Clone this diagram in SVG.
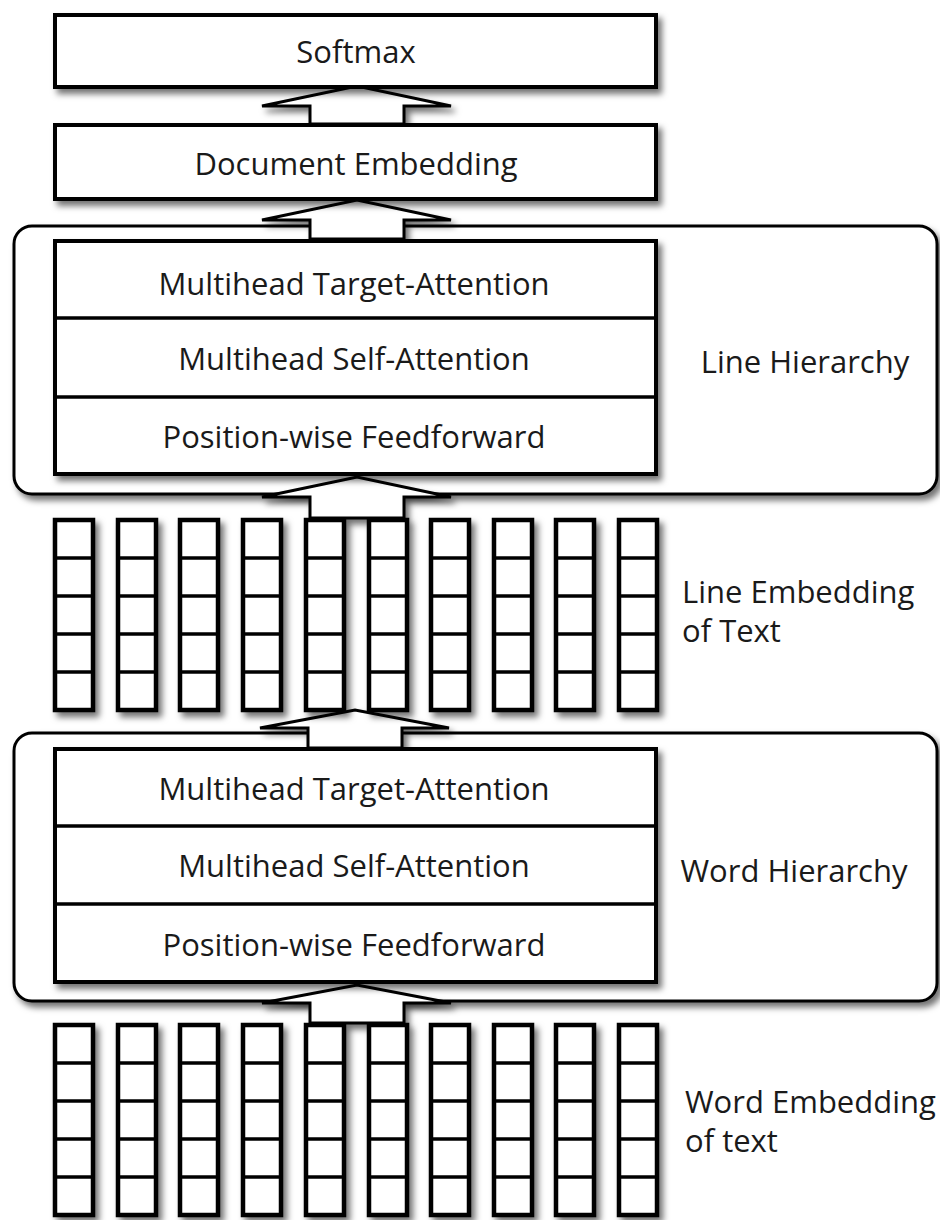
<svg xmlns="http://www.w3.org/2000/svg" width="940" height="1220" viewBox="0 0 940 1220">
<defs>
<filter id="sh" x="-10%" y="-10%" width="130%" height="140%">
<feDropShadow dx="4" dy="5" stdDeviation="3" flood-color="#000" flood-opacity="0.55"/>
</filter>
<g id="col">
<rect x="2" y="0" width="38" height="190" class="cell"/>
<line x1="2" y1="38" x2="40" y2="38" class="div"/>
<line x1="2" y1="76" x2="40" y2="76" class="div"/>
<line x1="2" y1="114" x2="40" y2="114" class="div"/>
<line x1="2" y1="152" x2="40" y2="152" class="div"/>
</g>
</defs>
<style>
.box{fill:#fff;stroke:#000;stroke-width:4}
.outer{fill:#fff;stroke:#000;stroke-width:3}
.cell{fill:#fff;stroke:#000;stroke-width:4.5}
.div{stroke:#000;stroke-width:3.5}
.arrow{fill:#fff;stroke:#000;stroke-width:3;stroke-linejoin:miter}
.sep{stroke:#000;stroke-width:3.5}
text{font-family:"Open Sans","Noto Sans","DejaVu Sans",sans-serif;font-size:31px;fill:#1a1a1a}
.c{text-anchor:middle}
</style>
<rect width="940" height="1220" fill="#fff"/>

<g id="line-hierarchy-frame" filter="url(#sh)">
<rect class="outer" x="14" y="226" width="923" height="268" rx="18"/>
</g>
<g id="word-hierarchy-frame" filter="url(#sh)">
<rect class="outer" x="14" y="733" width="923" height="268" rx="18"/>
</g>

<g id="connectors" filter="url(#sh)">
<path class="arrow" d="M310,124 L310,106 L262,106 L357,86 L451,106 L404,106 L404,124 Z"/>
<path class="arrow" d="M310,239 L310,220 L262,220 L357,200 L451,220 L404,220 L404,239 Z"/>
<path class="arrow" d="M310,518 L310,497 L262,497 L357,477 L451,497 L404,497 L404,518 Z"/>
<path class="arrow" d="M308,748 L308,728 L260,728 L355,710 L449,728 L402,728 L402,748 Z"/>
<path class="arrow" d="M310,1023 L310,1003 L262,1003 L357,985 L451,1003 L404,1003 L404,1023 Z"/>
</g>

<g id="softmax" filter="url(#sh)">
<rect class="box" x="55" y="15" width="601" height="72"/>
</g>
<text class="c" x="356" y="63">Softmax</text>

<g id="document-embedding" filter="url(#sh)">
<rect class="box" x="55" y="125" width="601" height="74"/>
</g>
<text class="c" x="356" y="175">Document Embedding</text>

<g id="line-stack">
<g filter="url(#sh)"><rect class="box" x="55" y="241" width="601" height="233"/></g>
<line class="sep" x1="55" y1="318" x2="656" y2="318"/>
<line class="sep" x1="55" y1="397" x2="656" y2="397"/>
<text class="c" x="354" y="295">Multihead Target-Attention</text>
<text class="c" x="354" y="370">Multihead Self-Attention</text>
<text class="c" x="354" y="448">Position-wise Feedforward</text>
</g>
<text id="line-hierarchy-label" class="c" x="805" y="373">Line Hierarchy</text>

<g id="line-embedding" filter="url(#sh)">
<use href="#col" transform="translate(53,520)"/>
<use href="#col" transform="translate(116,520)"/>
<use href="#col" transform="translate(178,520)"/>
<use href="#col" transform="translate(241,520)"/>
<use href="#col" transform="translate(304,520)"/>
<use href="#col" transform="translate(367,520)"/>
<use href="#col" transform="translate(429,520)"/>
<use href="#col" transform="translate(492,520)"/>
<use href="#col" transform="translate(554,520)"/>
<use href="#col" transform="translate(617,520)"/>
</g>
<text id="line-embedding-label" x="682" y="603">Line Embedding<tspan x="682" y="642">of Text</tspan></text>

<g id="word-stack">
<g filter="url(#sh)"><rect class="box" x="55" y="749" width="601" height="233"/></g>
<line class="sep" x1="55" y1="826" x2="656" y2="826"/>
<line class="sep" x1="55" y1="904" x2="656" y2="904"/>
<text class="c" x="354" y="800">Multihead Target-Attention</text>
<text class="c" x="354" y="877">Multihead Self-Attention</text>
<text class="c" x="354" y="956">Position-wise Feedforward</text>
</g>
<text id="word-hierarchy-label" class="c" x="794" y="882">Word Hierarchy</text>

<g id="word-embedding" filter="url(#sh)">
<use href="#col" transform="translate(53,1025)"/>
<use href="#col" transform="translate(116,1025)"/>
<use href="#col" transform="translate(178,1025)"/>
<use href="#col" transform="translate(241,1025)"/>
<use href="#col" transform="translate(304,1025)"/>
<use href="#col" transform="translate(367,1025)"/>
<use href="#col" transform="translate(429,1025)"/>
<use href="#col" transform="translate(492,1025)"/>
<use href="#col" transform="translate(554,1025)"/>
<use href="#col" transform="translate(617,1025)"/>
</g>
<text id="word-embedding-label" x="685" y="1113">Word Embedding<tspan x="685" y="1152">of text</tspan></text>
</svg>
